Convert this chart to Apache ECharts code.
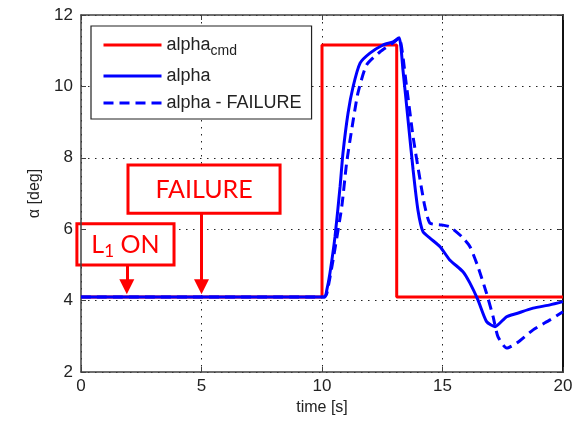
<!DOCTYPE html>
<html>
<head>
<meta charset="utf-8">
<script src="https://cdn.jsdelivr.net/npm/echarts@6/dist/echarts.min.js"></script>
<style>
  html, body { margin: 0; padding: 0; background: #fff; }
  #chart { width: 587px; height: 429px; }
</style>
</head>
<body>
<div id="chart"></div>
<script>
// Commanded angle of attack (step input).
const tCmd = [0, 10, 10, 13.1, 13.1, 20];
const alphaCmd = [4.1, 4.1, 11.16, 11.16, 4.1, 4.1];

// Response, nominal.
const tAlpha = [0, 10.1, 10.2, 10.33, 10.54, 10.75, 10.87, 11.08, 11.29, 11.58, 11.99, 12.53, 12.95, 13.2,
  13.36, 13.57, 13.78, 13.98, 14.19, 14.48, 14.9, 15.3, 15.85, 16.14, 16.47, 16.83, 17.18, 17.66, 18.08,
  18.76, 19.46, 20];
const alpha = [4.1, 4.1, 4.3, 4.77, 5.79, 7.19, 8.13, 9.25, 9.99, 10.65, 10.93, 11.16, 11.25, 11.36,
  10.46, 9.06, 7.66, 6.54, 5.93, 5.75, 5.51, 5.14, 4.81, 4.49, 4.02, 3.41, 3.27, 3.55, 3.64,
  3.79, 3.88, 3.97];

// Response with failure.
const tFail = [0, 10.1, 10.2, 10.46, 10.82, 11.02, 11.23, 11.49, 11.85, 12.41, 12.95, 13.2, 13.51, 13.78,
  14.07, 14.27, 14.48, 14.96, 15.3, 15.8, 16.14, 16.47, 16.83, 17.1, 17.3, 17.66, 18.08, 18.76, 19.46, 20];
const alphaFail = [4.1, 4.1, 4.2, 5.14, 6.63, 7.85, 8.78, 9.81, 10.6, 10.97, 11.22, 11.36, 9.99, 8.59,
  7.38, 6.63, 6.17, 6.12, 6.07, 5.79, 5.51, 4.95, 4.2, 3.55, 2.99, 2.67, 2.81, 3.18, 3.46, 3.69];

// Annotations: event time, arrow start (box bottom) in data units.
const noteNames = ['L1 ON', 'FAILURE'];
const noteTimes = [1.9, 5];
const noteArrowFrom = [5.0, 6.45];
const noteArrowTo = 4.39;
// Box extents in data units [x0, x1, yBottom, yTop].
const noteBoxes = [[-0.17, 3.86, 5.0, 6.15], [1.95, 8.26, 6.45, 7.8]];

const xTicks = { min: 0, max: 20, interval: 5 };
const yTicks = { min: 2, max: 12, interval: 2 };

const pair = (xs, ys) => xs.map((x, i) => [x, ys[i]]);

const FRAME = '#404040';
const FONT = '"Liberation Sans", Arial, sans-serif';

const chart = echarts.init(document.getElementById('chart'), null, { renderer: 'canvas' });

const baseAxis = {
  axisLine: { show: true, onZero: false, lineStyle: { color: FRAME, width: 1.5 } },
  axisTick: { show: true, inside: true, length: 5, lineStyle: { color: FRAME } },
};

chart.setOption({
  animation: false,
  grid: { left: 81, right: 24, top: 15, bottom: 57, containLabel: false },
  xAxis: [
    {
      ...baseAxis, type: 'value', ...xTicks,
      name: 'time [s]', nameLocation: 'middle', nameGap: 27,
      nameTextStyle: { fontFamily: FONT, fontSize: 16, color: '#222' },
      axisLabel: { margin: 6, fontFamily: FONT, fontSize: 17, color: '#222' },
      splitLine: { show: true, lineStyle: { color: '#222', type: [1.5, 5.5], width: 1 } },
    },
    {
      ...baseAxis, type: 'value', ...xTicks, position: 'top',
      axisLabel: { show: false }, splitLine: { show: false },
    },
  ],
  yAxis: [
    {
      ...baseAxis, type: 'value', ...yTicks,
      name: 'α [deg]', nameLocation: 'middle', nameGap: 38,
      nameTextStyle: { fontFamily: FONT, fontSize: 16, color: '#222' },
      axisLabel: { margin: 8, fontFamily: FONT, fontSize: 17, color: '#222' },
      splitLine: { show: true, lineStyle: { color: '#222', type: [1.5, 5.5], width: 1 } },
    },
    {
      ...baseAxis, type: 'value', ...yTicks, position: 'right',
      axisLine: { show: true, onZero: false, lineStyle: { color: '#111', width: 2 } },
      axisLabel: { show: false }, splitLine: { show: false },
    },
  ],
  legend: {
    orient: 'vertical', left: 91, top: 26,
    padding: [10, 10, 7, 11], itemGap: 9,
    itemWidth: 58, itemHeight: 14,
    borderColor: '#222', borderWidth: 1.2, backgroundColor: '#fff',
    selectedMode: false,
    itemStyle: { opacity: 0 },
    lineStyle: { width: 3 },
    data: ['alpha_cmd', 'alpha', 'alpha - FAILURE'],
    formatter: (name) => (name === 'alpha_cmd' ? '{a|alpha}{s|cmd}' : '{a|' + name + '}'),
    textStyle: {
      color: '#222', fontFamily: FONT, fontSize: 18,
      rich: {
        a: { fontFamily: FONT, fontSize: 18, color: '#222' },
        s: { fontFamily: FONT, fontSize: 14, color: '#222', padding: [12, 0, 0, 0] },
      },
    },
  },
  series: [
    {
      name: 'alpha_cmd', type: 'line', data: pair(tCmd, alphaCmd),
      showSymbol: false, symbol: 'none', z: 3,
      lineStyle: { color: '#ff0000', width: 3 }, itemStyle: { color: '#ff0000' },
      markLine: {
        silent: true, symbol: ['none', 'triangle'], symbolSize: 15,
        label: { show: false },
        lineStyle: { color: '#ff0000', width: 3, type: 'solid' },
        data: noteTimes.map((t, i) => [{ coord: [t, noteArrowFrom[i]] }, { coord: [t, noteArrowTo] }]),
      },
    },
    {
      name: 'alpha', type: 'line', data: pair(tAlpha, alpha),
      showSymbol: false, symbol: 'none', smooth: 0.2, z: 4,
      lineStyle: { color: '#0000ff', width: 3 }, itemStyle: { color: '#0000ff' },
    },
    {
      name: 'alpha - FAILURE', type: 'line', data: pair(tFail, alphaFail),
      showSymbol: false, symbol: 'none', smooth: 0.2, z: 4,
      lineStyle: { color: '#0000ff', width: 3, type: [10, 6] }, itemStyle: { color: '#0000ff' },
    },
  ],
});

// Annotation boxes placed through the axes' scale.
const toPx = (p) => chart.convertToPixel({ gridIndex: 0 }, p);
const noteText = (name) => (name === 'L1 ON' ? '{a|L}{s|1}{a| ON}' : '{a|' + name + '}');
chart.setOption({
  graphic: noteBoxes.map((b, i) => {
    const [x0, y1] = toPx([b[0], b[3]]);
    const [x1, y0] = toPx([b[1], b[2]]);
    return {
      type: 'group', z: 100,
      children: [
        {
          type: 'rect',
          shape: { x: x0, y: y1, width: x1 - x0, height: y0 - y1 },
          style: { fill: '#fff', stroke: '#ff0000', lineWidth: 3 },
        },
        {
          type: 'text',
          style: {
            text: noteText(noteNames[i]), x: (x0 + x1) / 2, y: (y0 + y1) / 2 + 1,
            align: 'center', verticalAlign: 'middle',
            rich: {
              a: { fontFamily: 'Lato, "Open Sans", sans-serif', fontSize: 25, fill: '#ff0000' },
              s: { fontFamily: 'Lato, "Open Sans", sans-serif', fontSize: 17, fill: '#ff0000', padding: [12, 0, 0, 0] },
            },
          },
        },
      ],
    };
  }),
});
</script>
</body>
</html>
